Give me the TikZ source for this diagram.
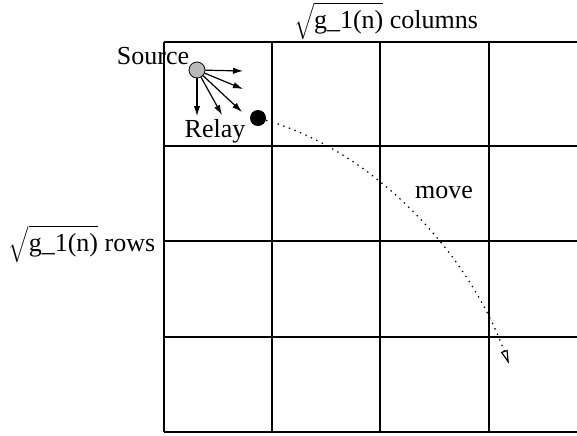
\documentclass[tikz,border=0pt]{standalone}
\usepackage{fontspec}
\setmainfont{Liberation Serif}
\usetikzlibrary{arrows.meta, positioning}

\begin{document}
\begin{tikzpicture}[
    x=0.5pt, y=-0.5pt,
    every node/.style={font=\fontsize{13}{15}\selectfont, inner sep=1pt},
    gridline/.style={line width=0.6pt},
    arr/.style={-{Latex[length=5pt, width=3.2pt]}, line width=0.6pt},
    movearr/.style={-{Triangle[open, length=7pt, width=3.5pt]}, line width=0.6pt, dash pattern=on 0.7pt off 2.3pt}
]
    \useasboundingbox (0,0) rectangle (577,435);

    % grid
    \foreach \y in {42,146,241,337,432}
        \draw[gridline] (164,\y) -- (577,\y);
    \foreach \x in {164,272,380,489}
        \draw[gridline] (\x,42) -- (\x,432);

    % source and relay
    \node[circle, draw, fill=gray!55, minimum size=8pt, inner sep=0pt] (src) at (197,70) {};
    \node[circle, fill=black, minimum size=8pt, inner sep=0pt] (relay) at (258,118) {};

    \node (srclabel) at (153,56) {Source};
    \node (relaylabel) at (215,131) {Relay};

    \coordinate (a1) at (243,71);
    \coordinate (a2) at (243,89);
    \coordinate (a3) at (242,112);
    \coordinate (a4) at (222,115);
    \coordinate (a5) at (197,116);
    \foreach \t in {a1,a2,a3,a4,a5}
        \draw[arr] (src) -- (\t);

    % relay moves
    \coordinate (dest) at (509,364);
    \draw[movearr] (relay) .. controls (370,150) and (466,248) .. (dest);
    \node (move) at (444,192) {move};

    % dimensions
    \node[inner sep=0pt] (cols) at (386,21) {$\sqrt{\mbox{g\_1(n)}}$ columns};
    \node (rows) at (82,244) {$\sqrt{\mbox{g\_1(n)}}$ rows};
\end{tikzpicture}
\end{document}
